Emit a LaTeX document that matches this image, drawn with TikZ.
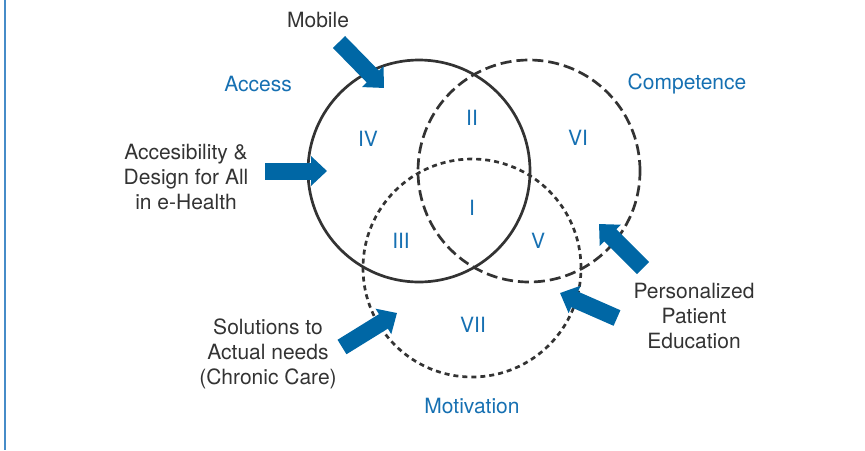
\documentclass[tikz,border=0pt]{standalone}
\usepackage{fontspec}
\setmainfont{TeX Gyre Heros}
\usepackage{tikz}
\usetikzlibrary{arrows.meta}
\definecolor{azul}{RGB}{0,103,165}
\definecolor{azultexto}{RGB}{22,112,178}
\definecolor{gris}{RGB}{51,51,51}
\definecolor{borde}{RGB}{70,140,200}

\begin{document}
\begin{tikzpicture}[x=0.5pt, y=-0.5pt,
    every node/.style={font=\fontsize{10.5}{12.5}\selectfont, text=gris},
    conjunto/.style={draw=gris, circle, line width=1.35pt, inner sep=0pt},
    etiqueta/.style={text=azultexto},
    flecha/.style={azul, line width=8.5pt, -{Triangle[length=8pt, width=14.5pt]}}]
            \useasboundingbox (0,0) rectangle (865,450);
            \draw[borde, line width=0.75pt] (5,0) -- (5,450);

            % Conjuntos
            \node[conjunto, minimum size=111pt] (access) at (419,171) {};
            \node[conjunto, minimum size=111pt, dash pattern=on 5.5pt off 2.5pt] (competence) at (529,171) {};
            \node[conjunto, minimum size=109pt, dash pattern=on 2.5pt off 2pt] (motivation) at (472,268) {};

            % Nombres
            \node[etiqueta] (nAccess) at (258,84) {Access};
            \node[etiqueta] (nCompetence) at (687,84) {Competence};
            \node[etiqueta] (nMotivation) at (472,406) {Motivation};

            % Regiones
            \node[etiqueta] (r4) at (368,139) {IV};
            \node[etiqueta] (r2) at (472,118) {II};
            \node[etiqueta] (r6) at (578,138) {VI};
            \node[etiqueta] (r1) at (472,208) {I};
            \node[etiqueta] (r3) at (401,241) {III};
            \node[etiqueta] (r5) at (538,241) {V};
            \node[etiqueta] (r7) at (473,325) {VII};

            % Factores
            \node (mobile) at (318,20) {Mobile};
            \node[align=center] (design) at (186,177) {Accesibility \&\\Design for All\\in e-Health};
            \node[align=center] (education) at (694,316) {Personalized\\Patient\\Education};
            \node[align=center] (needs) at (268,354) {Solutions to\\Actual needs\\(Chronic Care)};

            % Extremos
            \coordinate (m0) at (339,42);
            \coordinate (m1) at (384,88);
            \coordinate (d0) at (265,171);
            \coordinate (d1) at (327,171);
            \coordinate (e0) at (643,268);
            \coordinate (e1) at (599,224);
            \coordinate (f0) at (617,318);
            \coordinate (f1) at (560,293);
            \coordinate (s0) at (342,347);
            \coordinate (s1) at (397,313);

            % Flechas
            \draw[flecha] (m0) -- (m1);
            \draw[flecha] (d0) -- (d1);
            \draw[flecha] (e0) -- (e1);
            \draw[flecha] (f0) -- (f1);
            \draw[flecha] (s0) -- (s1);
          \end{tikzpicture}
\end{document}
